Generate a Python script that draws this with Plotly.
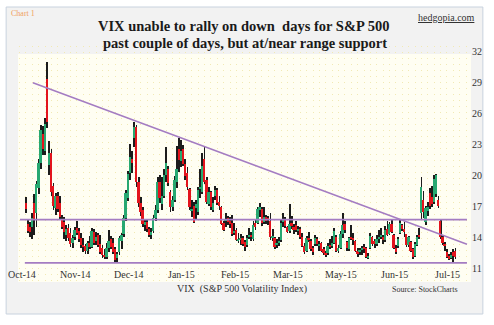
import plotly.graph_objects as go
import numpy as np

# ---------------- data ----------------
opens = [
    # Oct-14
    17.3, 15.3, 15.0, 15.0, 17.3, 16.3, 18.8, 21.2, 24.0, 22.4, 29.4, 21.0, 22.2, 19.0, 16.8, 18.0, 17.3, 15.8, 15.5, 14.2, 14.9, 14.4, 13.4,
    # Nov-14
    14.0, 14.9, 14.6, 13.9, 13.2, 13.1, 12.7, 13.4, 13.0, 14.5, 13.6, 14.2, 13.3, 12.9, 12.3, 12.1, 12.9, 13.8, 13.4,
    # Dec-14
    12.8, 12.0, 12.6, 13.6, 14.3, 15.9, 17.8, 20.2, 21.6, 23.6, 24.7, 19.4, 17.3, 16.6, 15.2, 15.5, 14.8, 14.2, 14.6, 15.9, 16.6, 19.4,
    # Jan-15
    17.2, 18.0, 20.0, 20.6, 18.4, 16.9, 17.6, 19.4, 22.6, 21.4, 22.6, 21.1, 20.2, 18.7, 16.6, 17.0, 16.8, 16.4, 18.7, 18.4,
    # Feb-15
    21.6, 19.6, 17.2, 18.4, 16.6, 18.0, 18.6, 17.4, 16.9, 15.4, 15.6, 15.9, 15.6, 15.4, 14.4, 14.7, 13.7, 13.8, 13.9,
    # Mar-15
    13.5, 13.2, 14.0, 14.2, 13.8, 15.4, 15.4, 16.6, 16.7, 15.5, 16.0, 15.9, 15.6, 13.9, 13.9, 13.2, 13.4, 13.7, 15.5, 15.8, 15.0, 14.6,
    # Apr-15
    15.4, 15.0, 15.2, 14.6, 14.8, 14.0, 13.1, 12.7, 13.9, 13.6, 12.9, 13.3, 13.8, 13.2, 13.4, 12.8, 12.5, 12.5, 13.2, 13.1, 13.4,
    # May-15
    14.0, 12.7, 12.9, 14.3, 15.3, 13.5, 12.8, 14.0, 13.9, 13.6, 12.7, 12.6, 12.8, 13.0, 12.9, 12.0, 12.9, 14.0, 13.6, 13.3,
    # Jun-15
    13.9, 14.1, 14.0, 13.7, 14.8, 14.3, 15.3, 14.2, 12.9, 13.1, 14.4, 15.2, 14.8, 14.3, 13.2, 13.5, 12.8, 12.2, 13.2, 14.2, 16.3, 17.6,
    # Jul-15
    15.5, 16.5, 18.3, 17.9, 17.4, 18.2, 17.6, 15.6, 14.0, 13.3, 12.6, 12.2, 12.0, 12.6, 12.7,
]
highs = [
    17.9, 15.7, 15.5, 16.3, 18.2, 19.5, 21.6, 24.9, 24.8, 25.6, 31.0, 23.3, 22.6, 19.3, 18.3, 18.4, 18.0, 16.2, 16.0, 15.2, 15.3, 14.9, 14.2,
    15.0, 15.6, 14.9, 14.4, 13.9, 13.3, 13.6, 14.1, 14.9, 14.8, 14.5, 14.4, 14.2, 13.2, 12.8, 13.4, 14.7, 14.1, 13.9,
    13.0, 12.6, 14.1, 14.4, 16.2, 18.6, 20.4, 23.1, 22.4, 25.2, 24.9, 19.8, 17.9, 16.9, 15.8, 15.7, 15.0, 14.9, 16.2, 17.1, 19.8, 20.0,
    19.8, 20.6, 22.8, 20.9, 18.6, 18.0, 19.9, 22.9, 23.6, 23.4, 23.0, 21.6, 20.8, 18.8, 17.6, 17.4, 17.6, 18.9, 20.6, 22.2,
    22.8, 19.8, 18.9, 18.5, 17.9, 19.0, 18.8, 18.0, 17.0, 15.6, 16.3, 16.1, 16.0, 16.2, 15.4, 14.9, 14.4, 14.3, 14.1,
    13.7, 14.2, 14.9, 14.5, 15.6, 15.7, 16.9, 17.3, 16.9, 16.9, 16.2, 16.1, 16.3, 14.8, 14.0, 13.8, 14.0, 15.8, 16.3, 16.0, 15.1, 17.2,
    16.1, 15.3, 15.6, 15.1, 15.0, 14.4, 13.4, 14.1, 14.5, 13.8, 13.1, 14.2, 14.0, 13.6, 13.5, 13.0, 12.7, 13.4, 13.8, 14.1, 14.9,
    14.2, 13.2, 14.6, 16.3, 15.6, 13.6, 14.0, 15.2, 14.4, 13.7, 12.9, 12.9, 13.1, 13.3, 13.0, 12.5, 14.4, 14.1, 13.8, 14.2,
    14.7, 14.9, 14.2, 15.1, 15.6, 15.5, 15.7, 14.3, 13.2, 14.0, 15.8, 15.3, 15.5, 14.3, 14.1, 13.6, 12.9, 13.5, 14.2, 14.9, 19.8, 18.5,
    17.0, 17.4, 18.8, 19.0, 20.0, 20.1, 18.0, 15.8, 14.2, 13.5, 12.8, 12.4, 12.6, 12.8, 12.9,
]
lows = [
    16.3, 14.4, 14.0, 13.8, 14.2, 15.0, 18.2, 20.6, 22.0, 22.0, 24.6, 20.0, 18.0, 16.6, 16.2, 16.4, 15.8, 14.8, 13.8, 13.6, 13.6, 13.0, 12.9,
    13.7, 14.2, 13.5, 12.9, 12.6, 12.4, 12.4, 12.8, 12.9, 13.2, 13.2, 13.0, 12.4, 12.0, 11.9, 11.9, 12.6, 12.8, 12.4,
    11.6, 11.6, 12.3, 12.8, 14.0, 15.6, 17.5, 19.6, 20.2, 22.8, 18.9, 16.9, 16.1, 15.0, 14.6, 14.5, 14.0, 13.8, 14.4, 15.6, 16.3, 17.3,
    16.6, 17.8, 19.4, 19.0, 16.4, 16.5, 17.4, 18.8, 20.3, 20.8, 20.9, 19.6, 18.6, 16.6, 16.0, 15.4, 15.7, 16.2, 17.8, 18.2,
    19.2, 17.2, 17.0, 16.6, 16.4, 17.6, 17.1, 16.6, 15.2, 14.6, 15.0, 15.2, 14.9, 14.1, 14.2, 13.6, 13.4, 13.2, 13.1,
    12.7, 13.0, 13.8, 13.6, 13.6, 14.7, 15.3, 16.0, 15.1, 15.3, 15.3, 15.2, 13.7, 13.6, 12.8, 12.9, 13.1, 13.5, 15.0, 14.9, 14.4, 14.4,
    14.8, 14.3, 14.5, 14.2, 13.8, 13.0, 12.4, 12.6, 13.5, 12.7, 12.3, 13.1, 13.1, 12.7, 12.6, 12.3, 12.1, 12.3, 12.8, 12.9, 13.3,
    12.6, 12.5, 12.8, 13.9, 14.4, 12.7, 12.7, 13.7, 13.2, 12.6, 12.1, 12.3, 12.3, 12.5, 12.0, 11.9, 12.8, 13.1, 12.9, 13.1,
    13.4, 13.8, 13.3, 13.5, 14.1, 14.2, 14.4, 12.8, 12.4, 12.9, 14.3, 14.6, 14.0, 13.0, 13.0, 12.6, 11.9, 12.1, 13.1, 13.8, 15.7, 15.9,
    15.2, 16.1, 16.7, 16.9, 17.2, 17.9, 16.8, 13.8, 13.2, 12.7, 12.0, 11.8, 11.9, 11.6, 11.9,
]
closes = [
    16.7, 14.6, 14.5, 15.9, 15.7, 19.2, 21.2, 24.4, 22.6, 25.0, 25.2, 22.2, 18.4, 17.0, 18.0, 16.7, 16.0, 15.0, 14.5, 14.8, 13.9, 13.3, 13.9,
    14.7, 14.4, 13.8, 13.2, 13.1, 12.7, 13.4, 13.0, 14.6, 13.4, 14.0, 13.2, 12.6, 12.3, 12.1, 12.9, 13.6, 13.0, 12.6,
    11.8, 12.4, 13.9, 14.2, 15.9, 18.3, 20.1, 21.8, 21.2, 24.7, 19.4, 17.3, 16.4, 15.3, 15.5, 14.8, 14.2, 14.5, 15.9, 16.6, 19.4, 17.8,
    18.0, 20.0, 21.2, 19.3, 16.9, 17.6, 19.6, 20.6, 21.5, 22.4, 21.1, 19.9, 18.9, 16.9, 16.7, 15.5, 17.2, 18.6, 18.8, 20.9,
    19.4, 17.4, 18.4, 16.9, 17.3, 18.6, 17.3, 17.0, 15.3, 14.7, 15.8, 15.5, 15.3, 14.3, 14.6, 13.7, 13.8, 13.9, 13.3,
    13.0, 13.9, 14.2, 14.0, 15.2, 15.0, 16.7, 16.9, 15.4, 16.0, 15.6, 15.7, 14.0, 14.1, 13.0, 13.4, 13.6, 15.4, 15.8, 15.1, 14.5, 15.3,
    15.1, 14.7, 14.7, 14.8, 14.0, 13.1, 12.6, 13.9, 13.7, 12.8, 12.6, 13.9, 13.3, 13.3, 12.7, 12.5, 12.3, 13.1, 13.0, 13.4, 14.6,
    12.7, 12.9, 14.3, 15.2, 14.7, 12.9, 13.9, 13.9, 13.8, 12.7, 12.4, 12.7, 12.9, 12.9, 12.1, 12.1, 14.1, 13.3, 13.3, 13.8,
    14.0, 14.2, 13.7, 14.7, 14.2, 15.3, 14.5, 12.9, 12.6, 13.8, 15.4, 14.8, 14.5, 13.2, 14.0, 12.7, 12.1, 13.3, 14.0, 14.0, 18.9, 16.4,
    16.8, 16.9, 17.0, 17.2, 19.7, 20.0, 17.0, 14.0, 13.4, 13.2, 12.1, 11.9, 12.3, 12.2, 12.1,
]
x_tick_labels = ["Oct-14", "Nov-14", "Dec-14", "Jan-15", "Feb-15", "Mar-15", "May-15", "Jun-15", "Jul-15"]
y_tick_values = [11, 14, 17, 20, 23, 26, 29, 32]
support_level = 15.7          # upper horizontal range line
floor_level = 11.5            # lower horizontal range line
trend_values = [29.0, 13.3]   # falling trend line, start / end value

# ---------------- geometry ----------------
W, H = 494, 325
ML, MR, MT, MB = 18, 18, 46, 43
PW, PH = W - ML - MR, H - MT - MB
X_RANGE = [-3.72, 209.3]
Y_RANGE = [9.64, 32.58]

def xp(px):
    return (px - ML) / PW

def yp(py):
    return 1 - (py - MT) / PH

n = len(closes)
idx = np.arange(n)
o = np.array(opens); c = np.array(closes); h = np.array(highs); l = np.array(lows)
body_base = np.minimum(o, c)
body_h = np.maximum(np.abs(c - o), 0.1)
GREEN, RED = "#27a871", "#e3141d"
body_colors = [GREEN if cc >= oo else RED for oo, cc in zip(o, c)]

SERIF = "Liberation Serif, Times New Roman, serif"
PURPLE = "#a47cc2"

fig = go.Figure()
# wicks
fig.add_trace(go.Bar(x=idx, base=l, y=h - l, width=0.4,
                     marker=dict(color="#1c1c1c", line=dict(width=0)),
                     hoverinfo="skip", showlegend=False))
# bodies
fig.add_trace(go.Bar(x=idx, base=body_base, y=body_h, width=0.85,
                     marker=dict(color=body_colors, line=dict(width=0)),
                     showlegend=False))

# reference lines
line_start_support = -2.8
line_start_floor = -0.5
line_start_trend = 3.3
line_end = 207.4
fig.add_trace(go.Scatter(x=[line_start_support, line_end], y=[support_level, support_level],
                         mode="lines", line=dict(color=PURPLE, width=1.6), showlegend=False))
fig.add_trace(go.Scatter(x=[line_start_floor, line_end], y=[floor_level, floor_level],
                         mode="lines", line=dict(color=PURPLE, width=1.6), showlegend=False))
fig.add_trace(go.Scatter(x=[line_start_trend, line_end], y=trend_values,
                         mode="lines", line=dict(color=PURPLE, width=1.6), showlegend=False))

shapes = [
    dict(type="rect", xref="paper", yref="paper", x0=xp(6), x1=xp(488), y0=yp(7), y1=yp(314),
         fillcolor="#f2f2f2", line=dict(color="#c8d2de", width=1), layer="below"),
    dict(type="rect", xref="paper", yref="paper", x0=xp(18), x1=xp(476), y0=yp(54), y1=yp(282),
         fillcolor="#fffef2", line=dict(width=0), layer="below"),
]

annotations = [
    dict(text="<b>VIX unable to rally on down\u00a0 days for S&amp;P 500</b>", x=xp(246), y=yp(26),
         xref="paper", yref="paper", showarrow=False, xanchor="center", yanchor="middle",
         font=dict(family=SERIF, size=14.5, color="#1a1a1a")),
    dict(text="<b>past couple of days, but at/near range support</b>", x=xp(247), y=yp(43),
         xref="paper", yref="paper", showarrow=False, xanchor="center", yanchor="middle",
         font=dict(family=SERIF, size=14.5, color="#1a1a1a")),
    dict(text="Chart 1", x=xp(9), y=yp(14), xref="paper", yref="paper", showarrow=False,
         xanchor="left", yanchor="middle", font=dict(family=SERIF, size=8, color="#f0a060")),
    dict(text="<u>hedgopia.com</u>", x=xp(482), y=yp(17), xref="paper", yref="paper", showarrow=False,
         xanchor="right", yanchor="middle", font=dict(family=SERIF, size=10, color="#333333")),
    dict(text="VIX\u00a0 (S&amp;P 500 Volatility Index)", x=xp(244), y=yp(289), xref="paper", yref="paper",
         showarrow=False, xanchor="center", yanchor="middle", font=dict(family=SERIF, size=10, color="#333333")),
    dict(text="Source: StockCharts", x=xp(429), y=yp(289), xref="paper", yref="paper",
         showarrow=False, xanchor="center", yanchor="middle", font=dict(family=SERIF, size=8, color="#333333")),
]
tick_pos = np.linspace(-1.9, 198.1, len(x_tick_labels))
for pos, lab in zip(tick_pos, x_tick_labels):
    annotations.append(dict(text=lab, x=pos, y=yp(274), xref="x", yref="paper", showarrow=False,
                            xanchor="center", yanchor="middle",
                            font=dict(family=SERIF, size=10, color="#333333")))

fig.update_layout(
    width=W, height=H, margin=dict(l=ML, r=MR, t=MT, b=MB),
    paper_bgcolor="white", plot_bgcolor="rgba(0,0,0,0)",
    barmode="overlay", bargap=0, showlegend=False,
    shapes=shapes, annotations=annotations,
    xaxis=dict(range=X_RANGE, showticklabels=False, ticks="", zeroline=False, showline=False,
               showgrid=True, dtick=3, tick0=0, gridcolor="#f1e9b4", gridwidth=1, griddash="1px,5px"),
    yaxis=dict(range=Y_RANGE, side="right", tickvals=y_tick_values, ticks="", showgrid=False,
               zeroline=False, showline=False, tickfont=dict(family=SERIF, size=10, color="#333333")),
)

fig.write_html("out.html")
